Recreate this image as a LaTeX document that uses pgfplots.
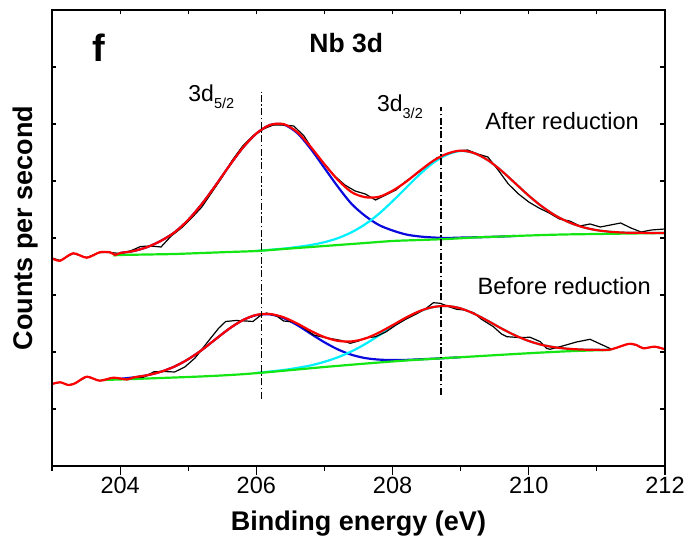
\documentclass[border=0pt]{standalone}
\usepackage{fontspec}
\setmainfont{Liberation Sans}
\usepackage{pgfplots}
\pgfplotsset{compat=1.18}
\definecolor{cred}{RGB}{255,0,0}
\definecolor{cblue}{RGB}{10,10,220}
\definecolor{ccyan}{RGB}{0,240,255}
\definecolor{cgreen}{RGB}{20,230,20}

\begin{document}
\begin{tikzpicture}
\useasboundingbox (-52pt,-72pt) rectangle (637pt,466pt);
\begin{axis}[
  at={(0,0)}, anchor=south west, scale only axis,
  width=613pt, height=456pt,
  xmin=203, xmax=212, ymin=0, ymax=456,
  axis line style={line width=1.1pt},
  xtick={204,206,...,212}, minor xtick={203,205,...,211},
  xtick pos=left, xtick align=outside,
  major tick length=9pt, minor tick length=5pt,
  every tick/.style={line width=1.1pt, black},
  ytick=\empty,
  /pgf/number format/assume math mode=true,
  xticklabel style={font=\fontsize{23.5}{26}\selectfont, inner sep=2pt},
  xlabel={Binding energy (eV)},
  ylabel={Counts per second},
  xlabel style={font=\bfseries\fontsize{27}{30}\selectfont, at={(axis description cs:0.5,-0.1404)}, anchor=base},
  ylabel style={font=\bfseries\fontsize{27}{30}\selectfont, at={(axis description cs:-0.031,0.522)}, anchor=base},
  clip=true,
]
% ---------- upper spectrum (After reduction) ----------
\addplot[cblue, line width=2.2pt, smooth] coordinates {
(204.0,213) (204.2,215) (204.4,219) (204.6,225.2) (204.8,233.7) (205.0,246.1)
(205.2,262) (205.4,280.4) (205.6,299.9) (205.8,318.1) (206.0,332.4) (206.2,341)
(206.4,341.5) (206.6,333) (206.8,317) (207.0,298) (207.2,279) (207.4,262)
(207.6,250) (207.8,241) (208.0,235.5) (208.2,231.5) (208.4,229.5) (208.6,228.5)
(208.8,228) (209.0,228.4) (209.4,229) (209.8,230)};
\addplot[ccyan, line width=2.2pt, smooth] coordinates {
(206.0,215) (206.4,217.4) (206.6,219) (206.8,221) (207.0,223.8) (207.2,227.9)
(207.4,233.8) (207.6,241.8) (207.8,252.2) (208.0,264.8) (208.2,278.3) (208.4,291.7)
(208.6,303.3) (208.8,311.3) (209.0,315) (209.2,312.8) (209.4,305.8) (209.6,295.2)
(209.8,282.8) (210.0,270.3) (210.2,259.2) (210.4,250.1) (210.6,243.4) (210.8,238.7)
(211.0,235.8) (211.2,234.2) (211.4,233.4) (211.6,233.2) (212.0,233)};
\addplot[cgreen, line width=2.2pt, smooth] coordinates {
(203.9,210.5) (204.0,211) (204.4,211.5) (204.8,212) (205.2,213) (205.6,214)
(206.0,215) (206.4,217) (206.8,219) (207.2,221) (207.6,223) (208.0,225)
(208.4,226) (208.8,227) (209.2,228.5) (209.6,229.5) (210.0,230.5) (210.5,231.5)
(211.0,232) (211.5,232.5) (212.0,233)};
\addplot[black, line width=1.2pt] coordinates {
(203.0,208) (203.12,205.5) (203.31,212.5) (203.51,208.5) (203.7,213.5) (203.85,213.5)
(204.0,212.5) (204.15,215) (204.3,219.5) (204.45,220) (204.6,219) (204.75,230)
(204.9,238) (205.05,248) (205.2,259) (205.35,274) (205.5,289) (205.65,306)
(205.8,320) (205.95,330) (206.1,337) (206.25,341) (206.4,341) (206.55,340)
(206.7,330) (206.85,314) (207.0,302) (207.15,290) (207.3,281) (207.45,275)
(207.6,272) (207.75,266) (207.9,271) (208.05,276) (208.2,285) (208.35,292)
(208.5,300) (208.65,308) (208.8,312) (208.95,315) (209.1,316) (209.25,312)
(209.4,309) (209.55,296) (209.7,282) (209.85,272) (210.0,264) (210.15,258)
(210.3,253) (210.45,247) (210.6,245) (210.75,240) (210.9,242) (211.05,239)
(211.2,241) (211.35,243) (211.5,238) (211.65,234) (211.8,236) (212.0,237)};
\addplot[cred, line width=2.2pt, smooth] coordinates {
(203.0,207.7) (203.12,205.3) (203.31,212.7) (203.51,208.3) (203.70,213.7) (203.85,213.7)
(203.93,211) (204.0,213) (204.2,215) (204.4,219) (204.6,225.2) (204.8,233.7)
(205.0,246.1) (205.2,262) (205.4,280.4) (205.6,299.9) (205.8,318.1) (206.0,332.5)
(206.2,341) (206.4,341.9) (206.6,334) (206.8,319) (207.0,301.8) (207.2,285.9)
(207.4,273.8) (207.6,268.8) (207.8,269.2) (208.0,275.3) (208.2,284.3) (208.4,295.2)
(208.6,305.3) (208.8,312.3) (209.0,315.4) (209.2,312.8) (209.4,305.8) (209.6,295.2)
(209.8,282.8) (210.0,270.3) (210.2,259.2) (210.4,250.1) (210.6,243.4) (210.8,238.7)
(211.0,235.8) (211.2,234.2) (211.4,233.4) (211.6,233.2) (211.8,233) (212.0,233)};
% ---------- lower spectrum (Before reduction) ----------
\addplot[cblue, line width=2.2pt, smooth] coordinates {
(204.0,87.2) (204.2,88.6) (204.4,90.8) (204.6,94.3) (204.8,99.5) (205.0,106.8)
(205.2,116.0) (205.4,126.7) (205.6,137.2) (205.8,145.8) (206.0,150.9) (206.2,151.6)
(206.4,147.9) (206.6,140.9) (206.8,132.2) (207.0,123.7) (207.2,116.5) (207.4,111.2)
(207.6,107.9) (207.8,106.4) (208.0,105.9) (208.2,106.1) (208.4,106.7) (208.6,107.3)
(208.8,108) (209.0,108.8)};
\addplot[ccyan, line width=2.2pt, smooth] coordinates {
(206.0,93.0) (206.4,96.0) (206.6,98.1) (206.8,100.6) (207.0,104.2) (207.2,108.8)
(207.4,114.7) (207.6,122.0) (207.8,130.5) (208.0,139.4) (208.2,147.9) (208.4,154.7)
(208.6,158.9) (208.8,160.0) (209.0,157.6) (209.2,152.2) (209.4,145.1) (209.6,137.5)
(209.8,130.6) (210.0,125.0) (210.2,121.0) (210.4,118.5) (210.6,117.1) (210.8,116.4)
(211.0,116.2) (211.2,116.2)};
\addplot[cgreen, line width=2.2pt, smooth] coordinates {
(203.75,86) (204.2,87) (204.6,88) (205.0,89) (205.4,90.2) (205.8,91.8)
(206.2,94) (206.6,96.5) (207.0,99) (207.4,101.3) (207.8,103.5) (208.2,105.5)
(208.6,107.2) (209.0,108.8) (209.4,110.4) (209.8,112) (210.2,113.5) (210.6,114.8)
(211.0,115.7) (211.2,116)};
\addplot[black, line width=1.2pt] coordinates {
(203.0,82) (203.12,83.7) (203.24,81) (203.34,82.7) (203.51,89.3) (203.7,85.3)
(203.9,88.3) (204.1,86.5) (204.2,88.5) (204.34,88.7) (204.5,94.3) (204.65,94.5)
(204.8,94) (204.95,99) (205.1,108) (205.32,127) (205.45,138) (205.55,144.5)
(205.7,145.5) (205.85,145) (205.95,144.5) (206.05,150) (206.15,153) (206.3,150)
(206.4,145) (206.55,144) (206.7,138) (206.84,131) (207.0,128.5) (207.13,127)
(207.25,125.5) (207.38,122.7) (207.5,125) (207.6,128) (207.75,129.3) (207.9,134)
(208.05,141) (208.2,147) (208.35,152) (208.5,158) (208.6,163.3) (208.7,162.7)
(208.8,160) (208.94,156.7) (209.05,156) (209.19,153.3) (209.3,147) (209.48,139.3)
(209.6,132) (209.68,129.3) (209.85,128.5) (210.02,128.7) (210.17,124.3) (210.26,117.7)
(210.31,116.7) (210.46,119.3) (210.7,124) (210.9,126.7) (211.05,122) (211.22,116.7)
(211.46,122) (211.58,121) (211.68,117.7) (211.85,119.3) (212.0,116.7)};
\addplot[cred, line width=2.2pt, smooth] coordinates {
(203.0,82) (203.12,83.7) (203.24,81) (203.34,82.7) (203.51,89.3) (203.7,85.3)
(203.9,88.3) (204.1,86.5) (204.2,88.6) (204.4,90.8) (204.6,94.3) (204.8,99.5)
(205.0,106.8) (205.2,116.0) (205.4,126.7) (205.6,137.2) (205.8,145.8) (206.0,151.1)
(206.2,152.0) (206.4,148.7) (206.6,142.5) (206.8,135.1) (207.0,128.9) (207.2,125.1)
(207.4,124.6) (207.6,127.5) (207.8,133.4) (208.0,140.8) (208.2,148.5) (208.4,155.0)
(208.6,159.0) (208.8,160) (209.0,157.6) (209.2,152.2) (209.4,145.1) (209.6,137.5)
(209.8,130.6) (210.0,125.0) (210.2,121.0) (210.4,118.5) (210.6,117.1) (210.8,116.4)
(211.0,116.2) (211.2,116.5) (211.46,122) (211.58,121) (211.68,117.7) (211.85,119.3)
(212.0,116.7)};
% ---------- peak position markers ----------
\addplot[black, line width=1.3pt, dash pattern=on 7pt off 2.5pt on 1.5pt off 2.5pt] coordinates {(206.08,67) (206.08,374)};
\addplot[black, line width=1.3pt, dash pattern=on 7pt off 2.5pt on 1.5pt off 2.5pt] coordinates {(208.71,71) (208.71,359)};
% ---------- texts ----------
\node[font=\bfseries\fontsize{38}{42}\selectfont] at (axis cs:203.69,418) {f};
\node[font=\bfseries\fontsize{26.5}{30}\selectfont, anchor=base, inner sep=0pt] at (axis cs:207.32,413) {Nb 3d};
\node[font=\fontsize{23}{26}\selectfont, anchor=base west, inner sep=0pt] at (axis cs:205.0,364) {3d\raisebox{-7pt}{\fontsize{14.5}{16}\selectfont 5/2}};
\node[font=\fontsize{23}{26}\selectfont, anchor=base west, inner sep=0pt] at (axis cs:207.77,354) {3d\raisebox{-7pt}{\fontsize{14.5}{16}\selectfont 3/2}};
\node[font=\fontsize{23.6}{27}\selectfont, anchor=base, inner sep=0pt] at (axis cs:210.49,336) {After reduction};
\node[font=\fontsize{23.6}{27}\selectfont, anchor=base, inner sep=0pt] at (axis cs:210.52,171) {Before reduction};
\end{axis}
% overlay axis: inward ticks on top, left and right
\begin{axis}[
  at={(0,0)}, anchor=south west, scale only axis,
  width=613pt, height=456pt,
  xmin=203, xmax=212, ymin=0, ymax=456,
  axis line style={line width=1.1pt},
  xtick={204,206,...,212}, minor xtick={203,205,...,211},
  xtick pos=right, xtick align=inside,
  ytick={57,114,...,399}, ytick pos=both, ytick align=inside,
  major tick length=4.5pt, minor tick length=4.5pt,
  every tick/.style={line width=1.1pt, black},
  xticklabels={}, yticklabels={},
]
\end{axis}
\end{tikzpicture}
\end{document}
